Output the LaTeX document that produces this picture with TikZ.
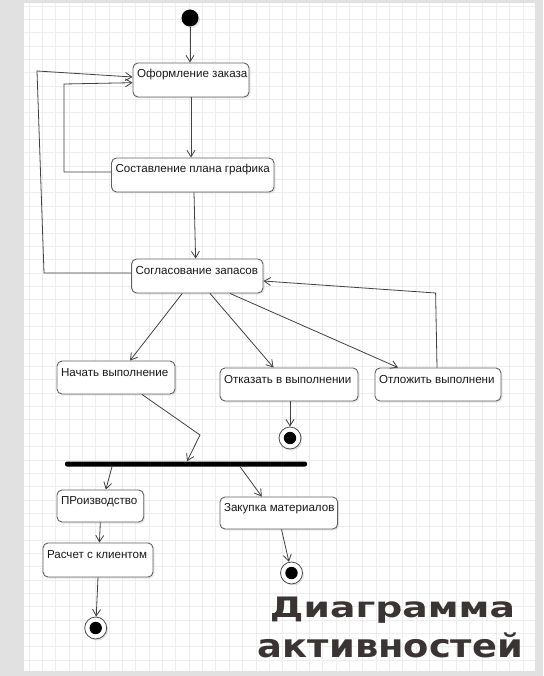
\documentclass[tikz,border=0pt]{standalone}
\usepackage{fontspec}
\setmainfont{Liberation Sans}
\newfontfamily\titlefont{DejaVu Sans}
\usepackage{graphicx}
\usetikzlibrary{arrows.meta,shadows}
\definecolor{bggray}{RGB}{225,225,225}
\definecolor{gridc}{RGB}{237,237,237}
\definecolor{linec}{RGB}{65,65,65}
\definecolor{titlec}{RGB}{58,52,52}
\begin{document}
\begin{tikzpicture}[x=1pt,y=-1pt,
  act/.style={draw=black!62, line width=0.9pt, rounded corners=5pt, fill=white,
    inner xsep=4pt, inner ysep=0pt, text height=15pt, text depth=19pt,
    font=\fontsize{11.6}{13}\selectfont, text=black!90,
    drop shadow={opacity=0.18, shadow xshift=1.5pt, shadow yshift=-1.5pt}},
  flow/.style={draw=linec, line width=0.8pt, -{Straight Barb[length=6.5pt,width=8pt]}},
  initst/.style={circle, fill=black, minimum size=17pt, inner sep=0pt,
    drop shadow={opacity=0.2, shadow xshift=1.5pt, shadow yshift=-1.5pt}},
  finst/.style={circle, draw=black!70, line width=0.8pt, fill=white, minimum size=22pt, inner sep=0pt,
    drop shadow={opacity=0.2, shadow xshift=1.5pt, shadow yshift=-1.5pt},
    path picture={\fill[black] (path picture bounding box.center) circle (6.2pt);}},
  forkbar/.style={fill=black, minimum width=242pt, minimum height=5pt, inner sep=0pt, rounded corners=2pt},
  title/.style={anchor=base, text=titlec, inner sep=0pt}
]
\useasboundingbox (0,0) rectangle (543,676);
\fill[bggray] (0,0) rectangle (543,676);
\fill[white] (24,3) rectangle (535,671);
\begin{scope}
  \clip (24,3) rectangle (535,671);
  \foreach \i in {0,...,38} {
    \draw[gridc, line width=0.6pt] (28.85+13.35*\i,3) -- (28.85+13.35*\i,671);
  }
  \foreach \j in {0,...,50} {
    \draw[gridc, line width=0.6pt] (24,5.9+13.35*\j) -- (535,5.9+13.35*\j);
  }
\end{scope}

% nodes
\node[initst] (init) at (190,18) {};
\node[act] (ofz) at (191,80) {\makebox[108pt][l]{Оформление заказа}};
\node[act] (sost) at (192.75,175) {\makebox[154.5pt][l]{Составление плана графика}};
\node[act] (sogl) at (197.3,276) {\makebox[123.4pt][l]{Согласование запасов}};
\node[act, text depth=18pt] (nach) at (116,377.5) {\makebox[110pt][l]{Начать выполнение}};
\node[act, text depth=18pt] (otk) at (289,384.5) {\makebox[130pt][l]{Отказать в выполнении}};
\node[act, text depth=18pt] (otl) at (438,384.5) {\makebox[118pt][l]{Отложить выполнени}};
\node[forkbar] (fork) at (186,464) {};
\node[act, text height=14pt, text depth=18pt] (proizv) at (100.35,506) {\makebox[78.7pt][l]{ПРоизводство}};
\node[act, text height=14pt, text depth=18pt] (zak) at (278.8,513) {\makebox[109.6pt][l]{Закупка материалов}};
\node[act] (rasch) at (98,560) {\makebox[102pt][l]{Расчет с клиентом}};
\node[finst] (fin1) at (290,438) {};
\node[finst] (fin2) at (291.5,573) {};
\node[finst] (fin3) at (95.7,628) {};

\coordinate (lpA) at (44,273);
\coordinate (lpB) at (37,71);
\coordinate (lpC) at (64,172);
\coordinate (lpD) at (64,84);
\coordinate (lpE) at (435.6,293);
\coordinate (lpF) at (200,435);

% connectors
\draw[flow] (init) -- (init |- ofz.north);
\draw[flow] (ofz.south) -- (ofz.south |- sost.north);
\draw[flow] ([xshift=1.25pt]sost.south) -- ([xshift=-1.7pt]sogl.north);
\draw[flow] ([yshift=3pt]sogl.west) -- (lpA) -- (lpB) -- ([yshift=3pt]ofz.west);
\draw[flow] ([yshift=3pt]sost.west) -- (lpC) -- (lpD) -- ([yshift=-2.7pt]ofz.west);
\draw[flow] ([xshift=-15pt]sogl.south) -- ([xshift=14pt]nach.north);
\draw[flow] ([xshift=12.7pt]sogl.south) -- ([xshift=-15.5pt]otk.north);
\draw[flow] ([xshift=32.7pt]sogl.south) -- ([xshift=-40pt]otl.north);
\draw[flow] ([xshift=-1pt]otl.north) -- (lpE) -- ([yshift=-5pt]sogl.east);
\draw[flow] (otk.south -| fin1) -- (fin1);
\draw[flow] ([xshift=26pt]nach.south) -- (lpF) -- ([xshift=1pt]fork.north);
\draw[flow] ([xshift=-74pt]fork.south) -- ([xshift=5.5pt]proizv.north);
\draw[flow] ([xshift=54pt]fork.south) -- ([xshift=-17pt]zak.north);
\draw[flow] (proizv.south) -- ([xshift=1.4pt]rasch.north);
\draw[flow] (rasch.south) -- (fin3);
\draw[flow] ([xshift=2.7pt]zak.south) -- (fin2);

% title
\node[title] (t1) at (392.5,617) {\resizebox{245pt}{20.5pt}{\titlefont\bfseries Диаграмма}};
\node[title] (t2) at (390.5,657.7) {\resizebox{265pt}{24.7pt}{\titlefont\bfseries активностей}};
\end{tikzpicture}
\end{document}
